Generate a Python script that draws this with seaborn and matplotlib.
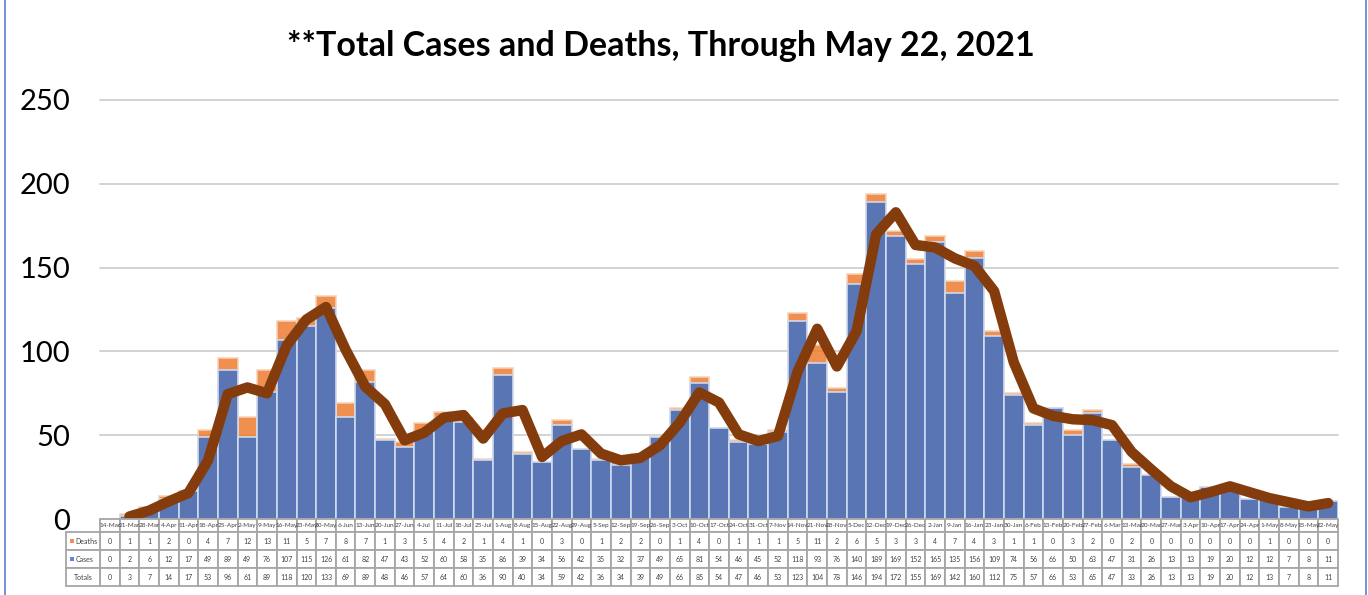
import numpy as np
import pandas as pd
import matplotlib
matplotlib.use("Agg")
import matplotlib.pyplot as plt
import matplotlib.transforms as mtransforms
from matplotlib.patches import Rectangle
from matplotlib.lines import Line2D
import seaborn as sns

weeks = ["14-Mar", "21-Mar", "28-Mar", "4-Apr", "11-Apr", "18-Apr", "25-Apr", "2-May", "9-May", "16-May",
         "23-May", "30-May", "6-Jun", "13-Jun", "20-Jun", "27-Jun", "4-Jul", "11-Jul", "18-Jul", "25-Jul", "1-Aug",
         "8-Aug", "15-Aug", "22-Aug", "29-Aug", "5-Sep", "12-Sep", "19-Sep", "26-Sep", "3-Oct", "10-Oct", "17-Oct",
         "24-Oct", "31-Oct", "7-Nov", "14-Nov", "21-Nov", "28-Nov", "5-Dec", "12-Dec", "19-Dec", "26-Dec", "2-Jan",
         "9-Jan", "16-Jan", "23-Jan", "30-Jan", "6-Feb", "13-Feb", "20-Feb", "27-Feb", "6-Mar", "13-Mar", "20-Mar",
         "27-Mar", "3-Apr", "10-Apr", "17-Apr", "24-Apr", "1-May", "8-May", "15-May", "22-May"]

deaths = [0, 1, 1, 2, 0, 4, 7, 12, 13, 11,
          5, 7, 8, 7, 1, 3, 5, 4, 2, 1, 4,
          1, 0, 3, 0, 1, 2, 2, 0, 1, 4, 0,
          1, 1, 1, 5, 11, 2, 6, 5, 3, 3, 4,
          7, 4, 3, 1, 1, 0, 3, 2, 0, 2, 0,
          0, 0, 0, 0, 0, 1, 0, 0, 0]

cases = [0, 2, 6, 12, 17, 49, 89, 49, 76, 107,
         115, 126, 61, 82, 47, 43, 52, 60, 58, 35, 86,
         39, 34, 56, 42, 35, 32, 37, 49, 65, 81, 54,
         46, 45, 52, 118, 93, 76, 140, 189, 169, 152, 165,
         135, 156, 109, 74, 56, 66, 50, 63, 47, 31, 26,
         13, 13, 19, 20, 12, 12, 7, 8, 11]

totals = [0, 3, 7, 14, 17, 53, 96, 61, 89, 118,
          120, 133, 69, 89, 48, 46, 57, 64, 60, 36, 90,
          40, 34, 59, 42, 36, 34, 39, 49, 66, 85, 54,
          47, 46, 53, 123, 104, 78, 146, 194, 172, 155, 169,
          142, 160, 112, 75, 57, 66, 53, 65, 47, 33, 26,
          13, 13, 19, 20, 12, 13, 7, 8, 11]

title = "**Total Cases and Deaths, Through May 22, 2021"
yticks = [0, 50, 100, 150, 200, 250]

BLUE = "#4472C4"
ORANGE = "#ED7D31"
BROWN = "#843C0C"
GRID = "#D0D0D0"
CELL = "#A6A6A6"

sns.set_theme(style="white")
plt.rcParams["font.family"] = ["Lato", "DejaVu Sans"]

W, H = 1368, 595
fig = plt.figure(figsize=(W / 100, H / 100), dpi=100)
ax = fig.add_axes([100 / W, 1 - 519 / H, 1238 / W, 419 / H])

n = len(weeks)
df = pd.DataFrame({"week": weeks, "cases": cases, "deaths": deaths, "total": totals})
df["trend"] = df["total"].rolling(2).mean()

# stacked bars: totals (orange top) underneath cases (blue)
sns.barplot(data=df, x="week", y="total", color=ORANGE, saturation=1, width=1.0,
            errorbar=None, edgecolor="#F6D2B8", linewidth=1.3, alpha=0.85, ax=ax, zorder=2)
sns.barplot(data=df, x="week", y="cases", color=BLUE, saturation=1, width=1.0,
            errorbar=None, edgecolor="#D2DDF0", linewidth=1.3, alpha=0.87, ax=ax, zorder=3)

trend = df.dropna(subset=["trend"])
sns.lineplot(x=trend.index.to_numpy(dtype=float), y=trend["trend"].to_numpy(), color=BROWN,
             linewidth=7.5, ax=ax, zorder=5, solid_capstyle="round", solid_joinstyle="round")

ax.set_xlim(-0.5, n - 0.5)
ax.set_ylim(0, 250)
ax.set_yticks(yticks)
ax.set_xlabel("")
ax.set_ylabel("")
ax.tick_params(axis="x", length=0, labelbottom=False)
ax.tick_params(axis="y", length=0, pad=21.5, labelsize=21, labelcolor="black")
for s in ax.spines.values():
    s.set_visible(False)
for yv in yticks[1:]:
    ax.axhline(yv, color=GRID, linewidth=1.3, zorder=1, clip_on=False)

# data table below the axis
trans = mtransforms.blended_transform_factory(ax.transData, fig.transFigure)
rows_px = [519, 532, 550, 568, 586]
yf = [1 - p / H for p in rows_px]

def cell(x0, x1, y0, y1):
    ax.add_patch(Rectangle((x0, y1), x1 - x0, y0 - y1, transform=trans, facecolor="white",
                           edgecolor=CELL, linewidth=1.3, clip_on=False, zorder=6))

for i in range(n):
    cell(i - 0.5, i + 0.5, yf[0], yf[1])
    ax.text(i, (yf[0] + yf[1]) / 2, weeks[i], transform=trans, ha="center", va="center",
            fontsize=4.6, color="#404040", clip_on=False, zorder=7)
    for r, vals in enumerate([deaths, cases, totals]):
        cell(i - 0.5, i + 0.5, yf[r + 1], yf[r + 2])
        ax.text(i, (yf[r + 1] + yf[r + 2]) / 2, str(vals[i]), transform=trans, ha="center",
                va="center", fontsize=5, color="#404040", clip_on=False, zorder=7)

lab_x0 = -0.5 - 34 / 19.65
labels = [("Deaths", ORANGE), ("Cases", BLUE), ("Totals", None)]
for r, (lab, col) in enumerate(labels):
    cell(lab_x0, -0.5, yf[r + 1], yf[r + 2])
    yc = (yf[r + 1] + yf[r + 2]) / 2
    if col is not None:
        ax.add_patch(Rectangle((lab_x0 + 0.22, yc - 2 / H), 4 / 19.65, 4 / H, transform=trans,
                               facecolor=col, alpha=0.85, edgecolor="none", clip_on=False, zorder=7))
        ax.text(lab_x0 + 0.5, yc, lab, transform=trans, ha="left", va="center",
                fontsize=5, color="#404040", clip_on=False, zorder=7)
    else:
        ax.text((lab_x0 - 0.5) / 2, yc, lab, transform=trans, ha="center", va="center",
                fontsize=5, color="#404040", clip_on=False, zorder=7)

fig.text(661 / W, 1 - 46 / H, title, ha="center", va="center", fontsize=24.5,
         fontweight="bold", color="black")

# chart border (left/right edges visible in the reference)
for xp in (5, 1366):
    fig.add_artist(Line2D([xp / W, xp / W], [0, 1], color="#6E93D6", linewidth=1.4))

fig.savefig("out.png", dpi=100)
